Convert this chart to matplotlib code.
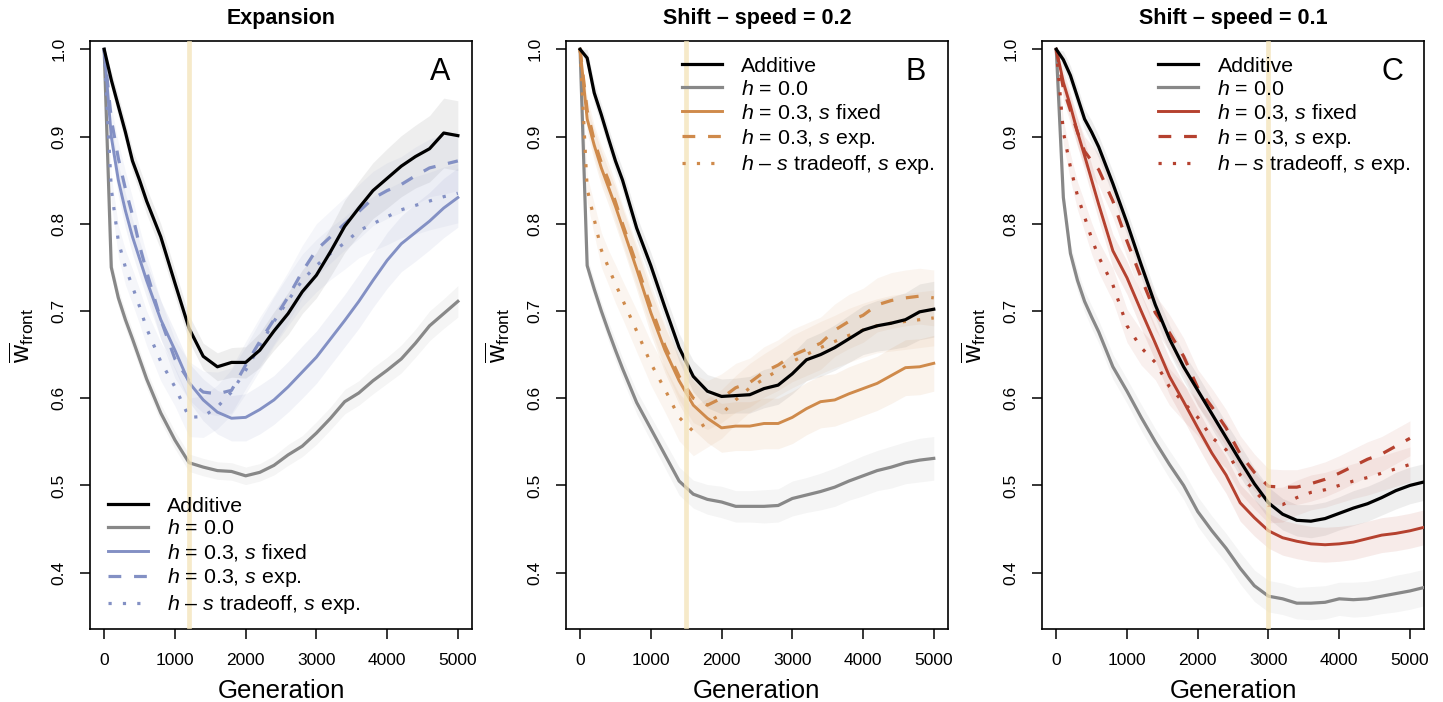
import numpy as np
import matplotlib.pyplot as plt

plt.rcParams['font.family'] = ['Liberation Sans', 'DejaVu Sans']
plt.rcParams['mathtext.fontset'] = 'custom'
plt.rcParams['mathtext.rm'] = 'Liberation Sans'
plt.rcParams['mathtext.it'] = 'Liberation Sans:italic'
plt.rcParams['mathtext.bf'] = 'Liberation Sans:bold'

# generations sampled
gens = [0, 100, 200, 300, 400, 500, 600, 800, 1000, 1200, 1400, 1600, 1800, 2000, 2200,
        2400, 2600, 2800, 3000, 3200, 3400, 3600, 3800, 4000, 4200, 4400, 4600, 4800, 5000]
gens_c = gens + [5200]

labels = ['Additive', r'$h$ = 0.0', r'$h$ = 0.3, $s$ fixed', r'$h$ = 0.3, $s$ exp.',
          r'$h$ – $s$ tradeoff, $s$ exp.']
titles = ['Expansion', 'Shift – speed = 0.2', 'Shift – speed = 0.1']
panel_tags = ['A', 'B', 'C']
end_of_shift = [1200, 1500, 3000]
panel_colors = ['#8390C4', '#CF8A4B', '#B5412F']

# Panel A - expansion
add_a = [1.0, 0.965, 0.935, 0.905, 0.872, 0.850, 0.826, 0.785, 0.732, 0.680, 0.648, 0.636, 0.641, 0.641, 0.655,
         0.677, 0.697, 0.722, 0.741, 0.768, 0.797, 0.818, 0.838, 0.852, 0.866, 0.877, 0.886, 0.904, 0.901]
h0_a = [1.0, 0.750, 0.715, 0.690, 0.668, 0.645, 0.622, 0.583, 0.552, 0.526, 0.521, 0.517, 0.516, 0.511, 0.515,
        0.523, 0.535, 0.545, 0.560, 0.577, 0.596, 0.606, 0.620, 0.632, 0.645, 0.663, 0.683, 0.697, 0.711]
fix_a = [1.0, 0.900, 0.850, 0.815, 0.785, 0.760, 0.735, 0.690, 0.655, 0.618, 0.598, 0.584, 0.577, 0.578, 0.587,
         0.598, 0.613, 0.630, 0.647, 0.668, 0.689, 0.711, 0.735, 0.758, 0.777, 0.790, 0.803, 0.818, 0.830]
exp_a = [1.0, 0.920, 0.875, 0.840, 0.810, 0.775, 0.745, 0.690, 0.645, 0.620, 0.607, 0.605, 0.609, 0.638, 0.665,
         0.690, 0.716, 0.745, 0.770, 0.785, 0.800, 0.814, 0.829, 0.838, 0.845, 0.855, 0.864, 0.868, 0.872]
trd_a = [1.0, 0.840, 0.780, 0.750, 0.728, 0.705, 0.680, 0.642, 0.613, 0.578, 0.579, 0.590, 0.607, 0.632, 0.660,
         0.688, 0.712, 0.735, 0.752, 0.766, 0.778, 0.792, 0.800, 0.808, 0.816, 0.821, 0.826, 0.831, 0.835]

# Panel B - shift, speed 0.2
add_b = [1.0, 0.990, 0.950, 0.925, 0.898, 0.872, 0.850, 0.795, 0.752, 0.704, 0.658, 0.625, 0.608, 0.602, 0.603,
         0.604, 0.611, 0.615, 0.628, 0.644, 0.650, 0.658, 0.668, 0.678, 0.683, 0.686, 0.690, 0.699, 0.702]
h0_b = [1.0, 0.752, 0.725, 0.700, 0.677, 0.655, 0.634, 0.595, 0.565, 0.535, 0.505, 0.490, 0.484, 0.481, 0.476,
        0.476, 0.476, 0.477, 0.485, 0.489, 0.493, 0.498, 0.505, 0.511, 0.517, 0.521, 0.526, 0.529, 0.531]
fix_b = [1.0, 0.920, 0.890, 0.864, 0.842, 0.820, 0.796, 0.748, 0.698, 0.655, 0.620, 0.592, 0.577, 0.566, 0.568,
         0.568, 0.571, 0.571, 0.578, 0.588, 0.596, 0.598, 0.605, 0.611, 0.617, 0.626, 0.635, 0.636, 0.640]
exp_b = [1.0, 0.930, 0.895, 0.870, 0.850, 0.825, 0.800, 0.753, 0.705, 0.660, 0.625, 0.600, 0.592, 0.600, 0.612,
         0.618, 0.630, 0.638, 0.649, 0.656, 0.663, 0.678, 0.688, 0.695, 0.707, 0.712, 0.715, 0.717, 0.715]
trd_b = [1.0, 0.840, 0.805, 0.770, 0.750, 0.731, 0.713, 0.677, 0.640, 0.610, 0.578, 0.562, 0.572, 0.582, 0.598,
         0.612, 0.622, 0.632, 0.642, 0.650, 0.658, 0.665, 0.672, 0.678, 0.683, 0.686, 0.688, 0.690, 0.692]

# Panel C - shift, speed 0.1
add_c = [1.0, 0.988, 0.970, 0.945, 0.920, 0.905, 0.888, 0.846, 0.801, 0.753, 0.707, 0.668, 0.636, 0.609, 0.582,
         0.555, 0.528, 0.502, 0.480, 0.467, 0.460, 0.459, 0.462, 0.468, 0.474, 0.479, 0.486, 0.494, 0.500, 0.504]
h0_c = [1.0, 0.830, 0.766, 0.735, 0.711, 0.693, 0.676, 0.636, 0.608, 0.578, 0.550, 0.524, 0.500, 0.470, 0.448,
        0.428, 0.405, 0.385, 0.373, 0.370, 0.365, 0.365, 0.366, 0.370, 0.369, 0.370, 0.373, 0.376, 0.379, 0.383]
fix_c = [1.0, 0.962, 0.935, 0.905, 0.878, 0.850, 0.822, 0.769, 0.738, 0.700, 0.663, 0.625, 0.596, 0.566, 0.537,
         0.512, 0.480, 0.463, 0.448, 0.440, 0.436, 0.433, 0.432, 0.433, 0.435, 0.439, 0.443, 0.445, 0.448, 0.452]
exp_c = [1.0, 0.955, 0.930, 0.905, 0.883, 0.872, 0.862, 0.826, 0.780, 0.738, 0.698, 0.675, 0.648, 0.612, 0.590,
         0.566, 0.536, 0.515, 0.499, 0.498, 0.498, 0.502, 0.507, 0.514, 0.522, 0.530, 0.536, 0.545, 0.554, np.nan]
trd_c = [1.0, 0.905, 0.865, 0.832, 0.808, 0.783, 0.762, 0.730, 0.683, 0.658, 0.641, 0.613, 0.595, 0.578, 0.555,
         0.541, 0.512, 0.494, 0.477, 0.478, 0.486, 0.492, 0.495, 0.500, 0.505, 0.509, 0.514, 0.519, 0.524, np.nan]

# half widths of the shaded bands
sd_add_a = [0, .010, .012, .012, .013, .014, .015, .015, .015, .015, .015, .016, .017, .018, .020,
            .022, .024, .025, .026, .028, .030, .031, .032, .034, .035, .036, .038, .040, .040]
sd_h0_a = [0, .010, .010, .010, .010, .010, .010, .010, .010, .010, .010, .010, .010, .010, .010,
           .011, .012, .012, .013, .013, .014, .014, .015, .015, .016, .016, .017, .017, .018]
sd_col_a = [0, .015, .018, .020, .020, .020, .020, .022, .022, .022, .024, .025, .026, .027, .028,
            .028, .029, .030, .030, .030, .030, .031, .031, .032, .032, .033, .033, .034, .034]
sd_add_b = [0, .010, .012, .012, .012, .013, .013, .014, .015, .016, .016, .018, .019, .020, .020,
            .021, .022, .022, .023, .024, .025, .026, .027, .028, .029, .030, .031, .032, .032]
sd_h0_b = [0, .010, .010, .010, .011, .012, .012, .013, .014, .015, .016, .016, .017, .018, .018,
           .018, .019, .019, .020, .020, .021, .022, .022, .023, .023, .024, .024, .025, .025]
sd_col_b = [0, .015, .018, .020, .020, .022, .022, .024, .025, .026, .027, .028, .028, .028, .028,
            .028, .029, .029, .030, .030, .030, .030, .031, .031, .031, .032, .032, .032, .032]
sd_add_c = [0, .010, .011, .012, .012, .013, .013, .014, .014, .015, .015, .016, .016, .017, .017,
            .017, .018, .018, .018, .018, .018, .019, .019, .019, .020, .020, .020, .021, .021, .021]
sd_h0_c = [0, .010, .011, .012, .012, .013, .013, .014, .014, .015, .015, .016, .016, .017, .017,
           .017, .018, .018, .018, .018, .018, .019, .019, .019, .020, .020, .020, .021, .021, .021]
sd_col_c = [0, .014, .015, .016, .017, .018, .018, .019, .019, .020, .020, .021, .021, .021, .021,
            .021, .021, .021, .020, .020, .020, .020, .020, .020, .020, .020, .020, .020, .020, .020]

panels = [
    (gens, [add_a, h0_a, fix_a, exp_a, trd_a], [sd_add_a, sd_h0_a, sd_col_a, sd_col_a, sd_col_a]),
    (gens, [add_b, h0_b, fix_b, exp_b, trd_b], [sd_add_b, sd_h0_b, sd_col_b, sd_col_b, sd_col_b]),
    (gens_c, [add_c, h0_c, fix_c, exp_c, trd_c], [sd_add_c, sd_h0_c, sd_col_c, sd_col_c, sd_col_c]),
]

fig = plt.figure(figsize=(14.43, 7.02), dpi=100)
lefts = [0.0624, 0.3922, 0.7222]

for i, (x, series, sds) in enumerate(panels):
    ax = fig.add_axes([lefts[i], 0.104, 0.2647, 0.8376])
    col = panel_colors[i]
    line_colors = ['black', '#888888', col, col, col]
    band_colors = ['#bdbdbd', '#c8c8c8', col, col, col]
    band_alpha = [0.25, 0.18, 0.10, 0.08, 0.08]
    styles = ['-', '-', '-', (0, (4, 4)), (0, (1, 3.5))]
    widths = [2.3, 2.3, 2.1, 2.3, 2.3]
    x = np.array(x, dtype=float)

    for m, sd, bc, ba in zip(series, sds, band_colors, band_alpha):
        m = np.array(m, dtype=float)
        sd = np.array(sd, dtype=float)
        ax.fill_between(x, m - sd, m + sd, color=bc, alpha=ba, lw=0, zorder=1)

    for k in [1, 2, 3, 4, 0]:
        ax.plot(x, series[k], color=line_colors[k], ls=styles[k], lw=widths[k],
                label=labels[k], zorder=3)
    handles = [ax.lines[j] for j in [4, 0, 1, 2, 3]]

    ax.axvline(end_of_shift[i], color='#F3E3B8', lw=3.4, alpha=0.75, zorder=4)

    ax.set_xlim(-200, 5200)
    ax.set_ylim(0.3354, 1.0095)
    ax.set_xticks([0, 1000, 2000, 3000, 4000, 5000])
    ax.set_yticks([0.4, 0.5, 0.6, 0.7, 0.8, 0.9, 1.0])
    ax.set_yticklabels(['0.4', '0.5', '0.6', '0.7', '0.8', '0.9', '1.0'])
    ax.tick_params(axis='both', direction='out', length=7, width=1.1, labelsize=12.5, pad=10)
    ax.tick_params(axis='y', labelrotation=90)
    for lab in ax.get_yticklabels():
        lab.set_va('center')
    for sp in ax.spines.values():
        sp.set_linewidth(1.2)

    ax.set_title(titles[i], fontsize=15.5, fontweight='bold', pad=12)
    ax.set_xlabel('Generation', fontsize=18.5, labelpad=8)
    ax.set_ylabel(r'$\overline{\mathrm{w}}_{\mathrm{front}}$', fontsize=18, labelpad=11)
    ax.text(0.916, 0.947, panel_tags[i], transform=ax.transAxes, fontsize=22,
            ha='center', va='center')

    leg_opts = dict(fontsize=15.4, frameon=False, borderpad=0, borderaxespad=0,
                    handlelength=1.87, handletextpad=0.9, labelspacing=0.17)
    if i == 0:
        leg = ax.legend(handles, labels, loc='lower left', bbox_to_anchor=(0.047, 0.022), **leg_opts)
    else:
        leg = ax.legend(handles, labels, loc='upper left', bbox_to_anchor=(0.304, 0.973), **leg_opts)
    leg.set_zorder(5)

fig.savefig('out.png', dpi=100)
